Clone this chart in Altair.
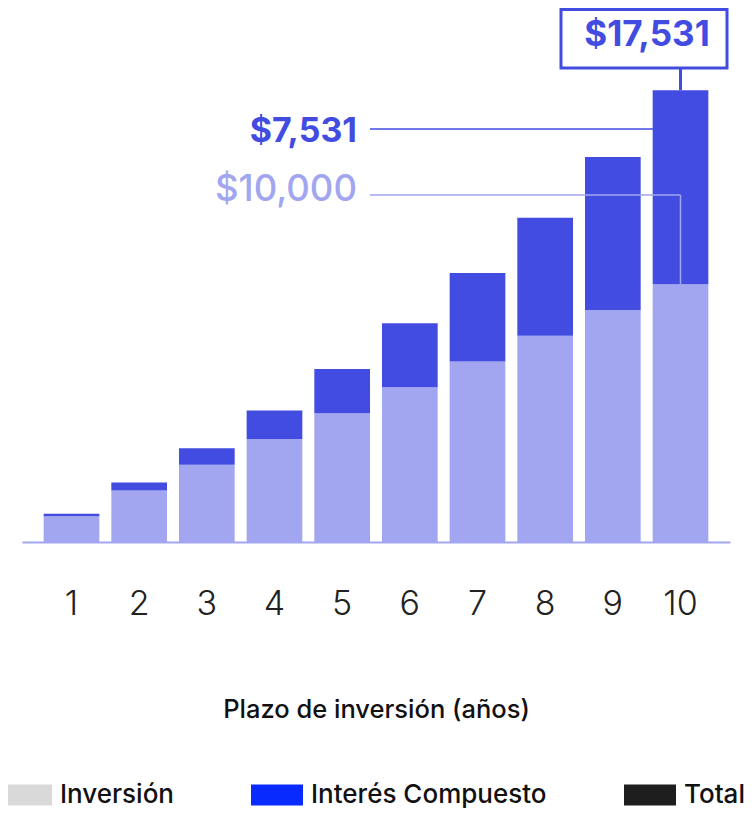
import altair as alt
import pandas as pd

# ---- data ----
years = [1, 2, 3, 4, 5, 6, 7, 8, 9, 10]
inversion = [1000, 2000, 3000, 4000, 5000, 6000, 7000, 8000, 9000, 10000]
interes = [100, 310, 641, 1105, 1716, 2487, 3436, 4579, 5937, 7531]
componentes = ["Inversión", "Interés Compuesto"]
leyenda = ["Inversión", "Interés Compuesto", "Total"]
leyenda_colores = ["#d9d9d9", "#0a2bff", "#1e1e1e"]
etiqueta_total = "$17,531"
etiqueta_interes = "$7,531"
etiqueta_inversion = "$10,000"

LIGHT = "#a2a6f0"
BLUE = "#424ce1"
FONT = "Inter"

rows = []
for y, a, b in zip(years, inversion, interes):
    rows.append({"anio": y, "comp": componentes[0], "valor": a, "orden": 0})
    rows.append({"anio": y, "comp": componentes[1], "valor": b, "orden": 1})
bars_df = pd.DataFrame(rows)

last = {"anio": years[-1], "inv": inversion[-1], "tot": inversion[-1] + interes[-1]}
last_df = pd.DataFrame([last])
leg_df = pd.DataFrame({"cat": leyenda})

x_enc = alt.X(
    "anio:O",
    scale=alt.Scale(paddingInner=0.177, paddingOuter=0.32),
    axis=alt.Axis(
        title="Plazo de inversión (años)",
        labelAngle=0,
        labelFont=FONT,
        labelFontSize=34,
        labelFontWeight=300,
        labelColor="#222222",
        labelPadding=45,
        ticks=False,
        domainColor=LIGHT,
        domainWidth=2,
        grid=False,
        titleFont=FONT,
        titleFontSize=25.5,
        titleFontWeight=500,
        titleColor="#111111",
        titleX=354,
        titleY=167,
        titleBaseline="middle",
    ),
)
x_plain = alt.X("anio:O")
y_scale = alt.Scale(domain=[0, 20720])

bars = alt.Chart(bars_df).mark_bar().encode(
    x=x_enc,
    y=alt.Y("valor:Q", stack="zero", scale=y_scale, axis=None),
    color=alt.Color("comp:N", scale=alt.Scale(domain=componentes, range=[LIGHT, BLUE]), legend=None),
    order=alt.Order("orden:Q"),
)

# callout lines
line_interes = alt.Chart(last_df).mark_rule(color=BLUE, strokeWidth=1.5).encode(
    x=x_plain, x2=alt.value(348), y=alt.value(121)
)
line_inv_h = alt.Chart(last_df).mark_rule(color=LIGHT, strokeWidth=1.5).encode(
    x=x_plain, x2=alt.value(348), y=alt.value(187)
)
line_inv_v = alt.Chart(last_df).mark_rule(color=LIGHT, strokeWidth=1.5).encode(
    x=x_plain, y=alt.Y("inv:Q", scale=y_scale), y2=alt.value(187)
)
line_tot_v = alt.Chart(last_df).mark_rule(color=BLUE, strokeWidth=3).encode(
    x=x_plain, y=alt.Y("tot:Q", scale=y_scale), y2=alt.value(61)
)
box = alt.Chart(last_df).mark_rect(fill="white", stroke=BLUE, strokeWidth=3).encode(
    x=alt.value(539), x2=alt.value(705), y=alt.value(1.5), y2=alt.value(60)
)

ann_df = pd.DataFrame({"t": [etiqueta_total, etiqueta_interes, etiqueta_inversion]})
txt_total = alt.Chart(ann_df.iloc[[0]]).mark_text(
    font=FONT, fontSize=35, fontWeight=700, color=BLUE, align="center", baseline="middle"
).encode(text="t:N", x=alt.value(625), y=alt.value(27))
txt_interes = alt.Chart(ann_df.iloc[[1]]).mark_text(
    font=FONT, fontSize=34, fontWeight=700, color=BLUE, align="right", baseline="middle"
).encode(text="t:N", x=alt.value(335), y=alt.value(124))
txt_inv = alt.Chart(ann_df.iloc[[2]]).mark_text(
    font=FONT, fontSize=36.5, fontWeight=500, color=LIGHT, align="right", baseline="middle"
).encode(text="t:N", x=alt.value(335), y=alt.value(182))

legend_layer = alt.Chart(leg_df).mark_point(filled=True, size=0, opacity=0).encode(
    fill=alt.Fill(
        "cat:N",
        scale=alt.Scale(domain=leyenda, range=leyenda_colores),
        legend=alt.Legend(
            title=None,
            orient="none",
            direction="horizontal",
            legendX=-22,
            legendY=761,
            symbolType="M-1,-0.4H1V0.4H-1Z",
            symbolSize=2704,
            symbolOpacity=1,
            symbolStrokeWidth=0,
            labelFont=FONT,
            labelFontSize=26,
            labelFontWeight=500,
            labelColor="#111111",
            labelOffset=8,
            columnPadding=77,
            labelLimit=400,
        ),
    )
)

chart = (
    alt.layer(
        bars, line_interes, line_inv_h, line_inv_v, line_tot_v, box,
        txt_total, txt_interes, txt_inv, legend_layer,
    )
    .resolve_scale(fill="independent")
    .properties(
        width=708,
        height=534,
        autosize=alt.AutoSizeParams(type="none"),
        padding={"left": 14, "top": 0, "right": 14, "bottom": 266},
    )
    .configure_view(stroke=None)
)

chart.save("out.html", embed_options={"renderer": "svg", "actions": False})
